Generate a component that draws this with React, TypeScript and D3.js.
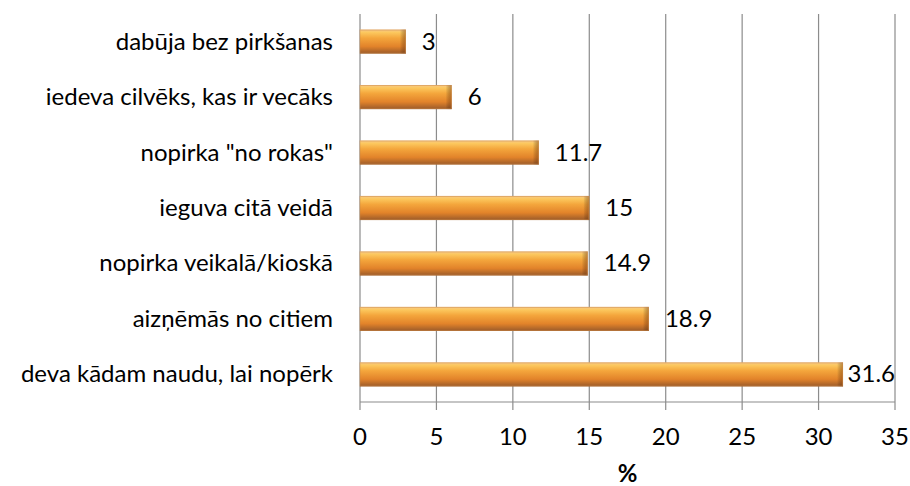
import React from 'react'
import * as d3 from 'd3'

const categories = [
  'dabūja bez pirkšanas',
  'iedeva cilvēks, kas ir vecāks',
  'nopirka "no rokas"',
  'ieguva citā veidā',
  'nopirka veikalā/kioskā',
  'aizņēmās no citiem',
  'deva kādam naudu, lai nopērk',
]
const values = [3, 6, 11.7, 15, 14.9, 18.9, 31.6]
const ticks = [0, 5, 10, 15, 20, 25, 30, 35]
const axisTitle = '%'

const W = 910
const H = 486
const left = 360
const right = 895
const top = 14
const bottom = 402
const font = 'Lato, "Open Sans", sans-serif'
const fs = 24

export default function App() {
  const x = d3.scaleLinear().domain([0, 35]).range([left, right])
  const y = d3.scaleBand<string>().domain(categories).range([top, bottom]).paddingInner(0.565).paddingOuter(0.28)
  const bh = y.bandwidth()

  return (
    <svg width={W} height={H} style={{ position: 'absolute', left: 0, top: 0, background: '#fff' }}>
      <defs>
        <linearGradient id="barGrad" x1="0" y1="0" x2="0" y2="1">
          <stop offset="0" stopColor="#f7c88a" />
          <stop offset="0.12" stopColor="#fcc85e" />
          <stop offset="0.35" stopColor="#f4a63c" />
          <stop offset="0.7" stopColor="#e2832a" />
          <stop offset="1" stopColor="#9a5a2a" />
        </linearGradient>
        <linearGradient id="endGrad" x1="0" y1="0" x2="1" y2="0">
          <stop offset="0" stopColor="#000" stopOpacity="0" />
          <stop offset="1" stopColor="#7a3a10" stopOpacity="0.45" />
        </linearGradient>
      </defs>
      {ticks.map(t => (
        <g key={t}>
          <line x1={x(t)} x2={x(t)} y1={top} y2={bottom + 8} stroke="#8c8c8c" strokeWidth={1.2} />
          <text x={x(t)} y={445} textAnchor="middle" fontFamily={font} fontSize={fs} fill="#000">{t}</text>
        </g>
      ))}
      <line x1={left} x2={right} y1={bottom} y2={bottom} stroke="#8c8c8c" strokeWidth={1.2} />
      {categories.map((c, i) => {
        const y0 = y(c) as number
        const xe = x(values[i])
        const label = String(values[i])
        // label sits 16px past the bar end, pushed back if it would pass the plot edge
        const estW = label.length * fs * 0.5
        const fits = xe + 16 + estW <= right
        return (
          <g key={c}>
            <text x={333} y={y0 + bh / 2 + 8} textAnchor="end" fontFamily={font} fontSize={fs} fill="#000">{c}</text>
            <rect x={left} y={y0} width={xe - left} height={bh} fill="url(#barGrad)" />
            <rect x={Math.max(left, xe - 6)} y={y0} width={Math.min(6, xe - left)} height={bh} fill="url(#endGrad)" />
            <rect x={left} y={y0 + 0.5} width={xe - left - 0.5} height={bh - 1} fill="none" stroke="#c98a4a" strokeOpacity={0.5} strokeWidth={1} />
            <text x={fits ? xe + 16 : right} y={y0 + bh / 2 + 8} textAnchor={fits ? 'start' : 'end'} fontFamily={font} fontSize={fs} fill="#000">{label}</text>
          </g>
        )
      })}
      <text x={(left + right) / 2} y={482} textAnchor="middle" fontFamily={font} fontSize={fs} fontWeight="bold" fill="#000">{axisTitle}</text>
    </svg>
  )
}
